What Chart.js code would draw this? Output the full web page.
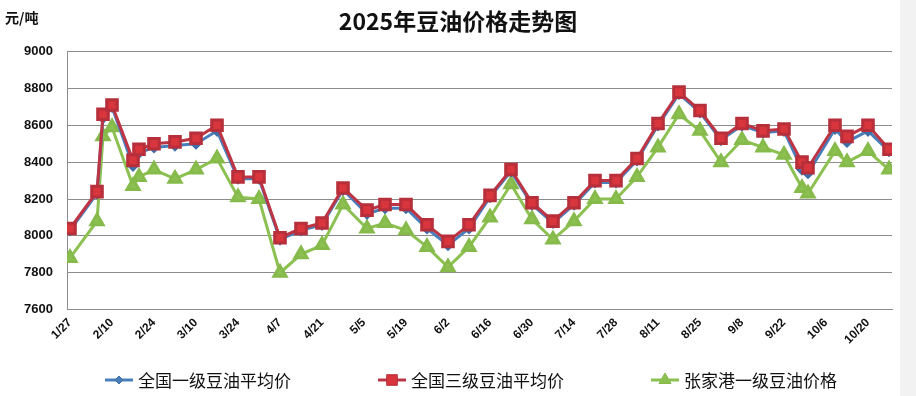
<!DOCTYPE html>
<html>
<head>
<meta charset="utf-8">
<script src="https://cdn.jsdelivr.net/npm/chart.js@4.4.1/dist/chart.umd.min.js"></script>
<style>
  html, body { margin: 0; padding: 0; background: #fff; }
  #wrap { width: 916px; height: 396px; position: relative; }
</style>
</head>
<body>
<div id="wrap"><canvas id="oilChart" width="916" height="396"></canvas></div>
<script>
// 2025年豆油价格走势图 - 数据直接从原图上读出来的 (元/吨)
const dates = [
  "1/27", "2/5", "2/7", "2/10", "2/17", "2/19", "2/24", "3/3", "3/10", "3/17",
  "3/24", "3/31", "4/7", "4/14", "4/21", "4/28", "5/6", "5/12", "5/19", "5/26",
  "6/2", "6/9", "6/16", "6/23", "6/30", "7/7", "7/14", "7/21", "7/28", "8/4",
  "8/11", "8/18", "8/25", "9/1", "9/8", "9/15", "9/22", "9/28", "9/30", "10/9",
  "10/13", "10/20", "10/27"
];

// 全国一级豆油平均价
const grade1Avg = [
  8030, 8230, 8640, 8700, 8380, 8450, 8480, 8490, 8500, 8570,
  8310, 8310, 7980, 8030, 8060, 8250, 8120, 8150, 8150, 8040,
  7950, 8040, 8210, 8350, 8170, 8070, 8170, 8290, 8290, 8410,
  8600, 8770, 8670, 8520, 8600, 8560, 8570, 8360, 8340, 8580,
  8510, 8570, 8460
];

// 全国三级豆油平均价
const grade3Avg = [
  8040, 8240, 8660, 8710, 8410, 8470, 8500, 8510, 8530, 8600,
  8320, 8320, 7990, 8040, 8070, 8260, 8140, 8170, 8170, 8060,
  7970, 8060, 8220, 8360, 8180, 8080, 8180, 8300, 8300, 8420,
  8610, 8780, 8680, 8530, 8610, 8570, 8580, 8400, 8370, 8600,
  8540, 8600, 8470
];

// 第三条线 (图例文字在原图里被打了码)
const portGrade1 = [
  7880, 8080, 8540, 8590, 8270, 8320, 8360, 8310, 8360, 8420,
  8210, 8200, 7800, 7900, 7950, 8170, 8040, 8070, 8030, 7940,
  7830, 7940, 8100, 8280, 8090, 7980, 8080, 8200, 8200, 8320,
  8480, 8660, 8570, 8400, 8520, 8480, 8440, 8260, 8230, 8460,
  8400, 8460, 8360
];

const seriesNames = ["全国一级豆油平均价", "全国三级豆油平均价", "张家港一级豆油价格"];
const xTickLabels = [
  "1/27", "2/10", "2/24", "3/10", "3/24", "4/7", "4/21", "5/5", "5/19", "6/2",
  "6/16", "6/30", "7/14", "7/28", "8/11", "8/25", "9/8", "9/22", "10/6", "10/20"
];
const yTicks = [7600, 7800, 8000, 8200, 8400, 8600, 8800, 9000];

// 日期 -> 从1/27开始的天数 (x轴是按日期排的, 不是等距分类)
function dayOf(label) {
  const [m, d] = label.split("/").map(Number);
  return (Date.UTC(2025, m - 1, d) - Date.UTC(2025, 0, 27)) / 86400000;
}
const xs = dates.map(dayOf);
const toPoints = (arr) => arr.map((v, i) => ({ x: xs[i], y: v }));

const CJK = "'Noto Sans CJK SC', 'Noto Sans', sans-serif";
const NUM = "'Liberation Sans', Arial, sans-serif";

// 图例: 线 + 标记, 跟 Excel 的样式一样
const legendPlugin = {
  id: "lineLegend",
  afterDraw(chart) {
    const ctx = chart.ctx;
    const y = 380;
    let x = 105;
    ctx.save();
    ctx.font = "17px " + CJK;
    ctx.textBaseline = "middle";
    chart.data.datasets.forEach((ds) => {
      ctx.strokeStyle = ds.borderColor;
      ctx.lineWidth = 3;
      ctx.beginPath();
      ctx.moveTo(x, y);
      ctx.lineTo(x + 28, y);
      ctx.stroke();
      drawMarker(ctx, ds.pointStyle, x + 14, y, ds.pointRadius, ds.pointBackgroundColor, ds.pointBorderColor);
      ctx.fillStyle = "#111";
      ctx.fillText(ds.label, x + 33, y + 1);
      x += 33 + ctx.measureText(ds.label).width + 87;
    });
    ctx.restore();
  },
};

function drawMarker(ctx, style, cx, cy, r, fill, stroke) {
  ctx.beginPath();
  if (style === "rect") {
    const s = r * Math.SQRT1_2;
    ctx.rect(cx - s, cy - s, 2 * s, 2 * s);
  } else if (style === "triangle") {
    ctx.moveTo(cx, cy - r);
    ctx.lineTo(cx + r * 0.866, cy + r * 0.5);
    ctx.lineTo(cx - r * 0.866, cy + r * 0.5);
    ctx.closePath();
  } else {
    ctx.moveTo(cx, cy - r);
    ctx.lineTo(cx + r, cy);
    ctx.lineTo(cx, cy + r);
    ctx.lineTo(cx - r, cy);
    ctx.closePath();
  }
  ctx.fillStyle = fill;
  ctx.fill();
  ctx.lineWidth = 1;
  ctx.strokeStyle = stroke;
  ctx.stroke();
}

// 左上角单位 + 背景
const unitPlugin = {
  id: "unitLabel",
  beforeDraw(chart) {
    const ctx = chart.ctx;
    ctx.save();
    ctx.fillStyle = "#fff";
    ctx.fillRect(0, 0, chart.width, chart.height);
    ctx.fillStyle = "#f2f2f2";
    ctx.fillRect(900, 0, chart.width - 900, chart.height);
    ctx.restore();
  },
  afterDraw(chart) {
    const ctx = chart.ctx;
    ctx.save();
    ctx.fillStyle = "#111";
    ctx.font = "bold 14px " + CJK;
    ctx.textBaseline = "middle";
    ctx.fillText("元/吨", 5, 18);
    ctx.restore();
  },
};

new Chart(document.getElementById("oilChart").getContext("2d"), {
  type: "line",
  data: {
    datasets: [
      {
        label: seriesNames[0],
        data: toPoints(grade1Avg),
        borderColor: "#4a7ebb",
        backgroundColor: "#4a7ebb",
        borderWidth: 3,
        pointStyle: "rectRot",
        pointRadius: 4,
        pointBackgroundColor: "#4a7ebb",
        pointBorderColor: "#3d6ea8",
        tension: 0,
        order: 1,
      },
      {
        label: seriesNames[1],
        data: toPoints(grade3Avg),
        borderColor: "#bd3544",
        backgroundColor: "#d8353c",
        borderWidth: 3,
        pointStyle: "rect",
        pointRadius: 7.5,
        pointBackgroundColor: "#d8353c",
        pointBorderColor: "#b62f3a",
        tension: 0,
        order: 0,
      },
      {
        label: seriesNames[2],
        data: toPoints(portGrade1),
        borderColor: "#8cc152",
        backgroundColor: "#8cc152",
        borderWidth: 3,
        pointStyle: "triangle",
        pointRadius: 7,
        pointBackgroundColor: "#8cc152",
        pointBorderColor: "#86bb4c",
        tension: 0,
        order: 2,
      },
    ],
  },
  options: {
    responsive: false,
    animation: false,
    devicePixelRatio: 1,
    layout: { padding: { left: 24, right: 24, top: 0, bottom: 43 } },
    plugins: {
      legend: { display: false },
      tooltip: { enabled: false },
      title: {
        display: true,
        text: "2025年豆油价格走势图",
        color: "#111",
        font: { family: CJK, size: 23, weight: "bold" },
        padding: { top: 7, bottom: 17 },
      },
    },
    scales: {
      x: {
        type: "linear",
        min: -1,
        max: 274,
        grid: { display: false, drawTicks: false },
        border: { display: true, color: "#8c8c8c", width: 1 },
        afterBuildTicks(scale) {
          scale.ticks = xTickLabels.map((l) => ({ value: dayOf(l) }));
        },
        afterFit(scale) {
          // 第一个斜着的标签可以伸到y轴标签下面, 不要让它把绘图区往右挤
          scale.paddingLeft = 0;
          scale.paddingRight = 0;
        },
        ticks: {
          autoSkip: false,
          minRotation: 45,
          maxRotation: 45,
          padding: 6,
          color: "#111",
          font: { family: NUM, size: 12, weight: "bold" },
          callback: (v) => xTickLabels.find((l) => dayOf(l) === v) || "",
        },
      },
      y: {
        min: yTicks[0],
        max: yTicks[yTicks.length - 1],
        grid: { color: "#8c8c8c", lineWidth: 1, drawTicks: false },
        border: { display: true, color: "#8c8c8c", width: 1 },
        afterBuildTicks(scale) {
          scale.ticks = yTicks.map((v) => ({ value: v }));
        },
        afterFit(scale) {
          scale.width = 43;
        },
        ticks: {
          padding: 14,
          color: "#111",
          font: { family: NUM, size: 13, weight: "bold" },
          callback: (v) => String(v),
        },
      },
    },
  },
  plugins: [unitPlugin, legendPlugin],
});
</script>
</body>
</html>
